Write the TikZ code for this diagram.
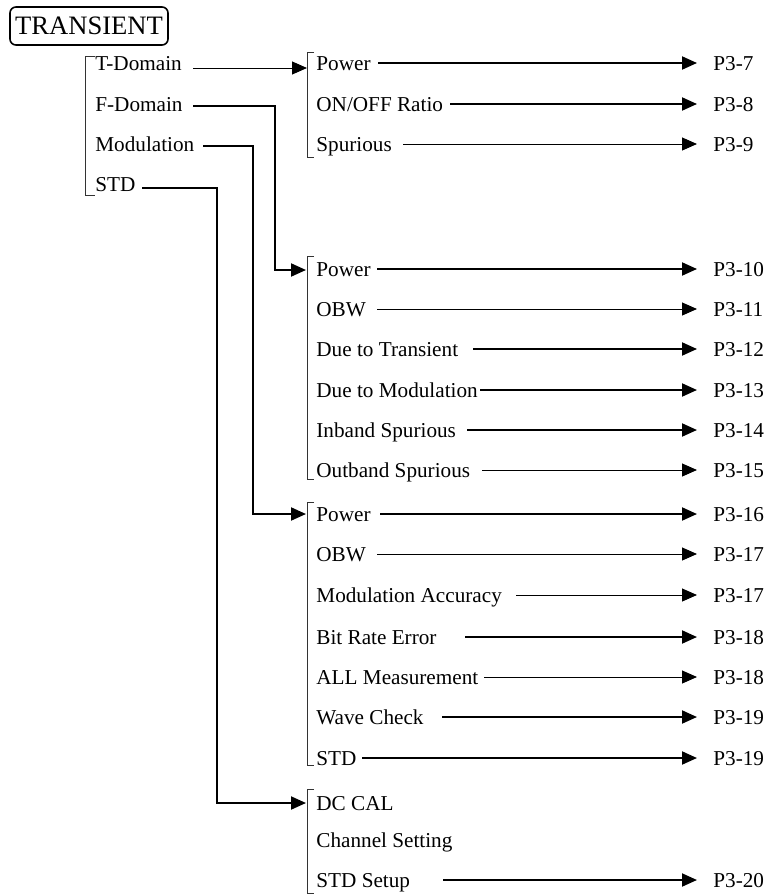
\documentclass[tikz,border=0pt]{standalone}
\usepackage{fontspec}
\setmainfont{Liberation Serif}
\usetikzlibrary{arrows.meta}

\begin{document}
\begin{tikzpicture}[x=0.5pt, y=-0.5pt, font=\fontsize{10.6}{12}\selectfont,
  item/.style={anchor=west, inner sep=0pt, text height=7pt, text depth=0pt},
  pageref/.style={anchor=west, inner sep=0pt, text height=7pt, text depth=0pt},
  fat/.style={line width=1pt, -{Triangle[length=7.5pt, width=6.5pt]}},
  slim/.style={line width=0.5pt, -{Triangle[length=7.5pt, width=6.5pt]}},
  brack/.style={line width=0.5pt, black!80}]
\useasboundingbox (0,0) rectangle (769,894);

% ---- title box ------------------------------------------------------------
\node[draw, rounded corners=3pt, line width=0.8pt, inner sep=0pt,
  minimum width=79pt, minimum height=19pt,
  font=\fontsize{13.3}{15}\selectfont] (transient) at (89,26) {TRANSIENT};

% ---- first level ----------------------------------------------------------
\draw[brack] (95,56) -| (85,195) -- (95,195);
\foreach \name/\txt/\y in {tdom/T-Domain/63, fdom/F-Domain/104,
                           modu/Modulation/144, stdl/STD/184}
  \node[item] (\name) at (95,\y) {\txt};

% ---- group brackets -------------------------------------------------------
\foreach \top/\bot in {52/157, 256/479, 502/765, 789/893}
  \draw[brack] (314,\top) -| (307,\bot) -- (314,\bot);

\coordinate (gonein)   at (307,68);
\coordinate (gtwoin)   at (306,270);
\coordinate (gthreein) at (306,514);
\coordinate (gfourin)  at (306,803);

% ---- rows with page references -------------------------------------------
\foreach \name/\txt/\y/\xs/\pg/\wt in {
    aone/Power/63/378/P3-7/fat,
    atwo/{ON/OFF Ratio}/104/450/P3-8/fat,
    athree/Spurious/144/403/P3-9/slim,
    bone/Power/269/377/P3-10/fat,
    btwo/OBW/309/377/P3-11/slim,
    bthree/Due to Transient/349/473/P3-12/fat,
    bfour/Due to Modulation/390/480/P3-13/fat,
    bfive/Inband Spurious/430/467/P3-14/fat,
    bsix/Outband Spurious/470/482/P3-15/slim,
    cone/Power/514/380/P3-16/fat,
    ctwo/OBW/554/377/P3-17/slim,
    cthree/Modulation Accuracy/595/516/P3-17/slim,
    cfour/Bit Rate Error/637/465/P3-18/fat,
    cfive/ALL Measurement/677/484/P3-18/slim,
    csix/Wave Check/717/442/P3-19/fat,
    cseven/STD/758/362/P3-19/fat,
    dthree/STD Setup/880/443/P3-20/fat}{
  \node[item] (\name) at (316,\y) {\txt};
  \node[pageref] (p\name) at (713,\y) {\pg};
  \draw[\wt, shorten >=8pt] (\xs,\y) -- (p\name.west);
}
\node[item] (done) at (316,803) {DC CAL};
\node[item] (dtwo) at (316,840) {Channel Setting};

% ---- connectors into the groups ------------------------------------------
\draw[slim] (193,68) -- (gonein);
\draw[fat] (193,106) -| (275,270) -- (gtwoin);
\draw[fat] (203,146) -| (253,514) -- (gthreein);
\draw[fat] (142,188) -| (217,803) -- (gfourin);
\end{tikzpicture}
\end{document}
